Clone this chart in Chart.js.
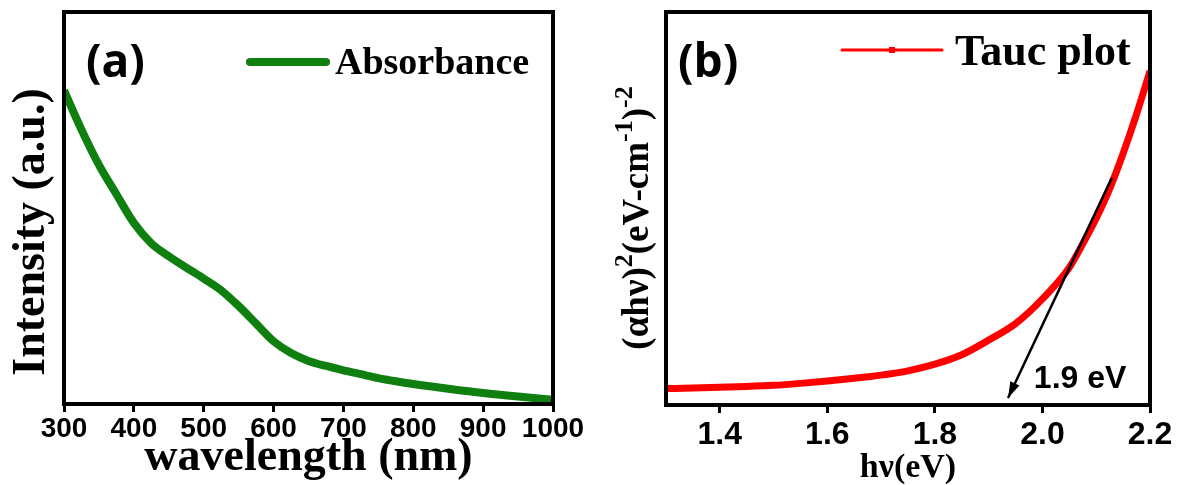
<!DOCTYPE html>
<html>
<head>
<meta charset="utf-8">
<script src="https://cdn.jsdelivr.net/npm/chart.js@4.4.1/dist/chart.umd.min.js"></script>
<style>
  body { margin: 0; background: #fff; }
  #wrap { display: flex; width: 1179px; height: 485px; }
  .panel { position: relative; height: 485px; }
</style>
</head>
<body>
<div id="wrap">
  <div class="panel" style="width:590px"><canvas id="chartA"></canvas></div>
  <div class="panel" style="width:589px"><canvas id="chartB"></canvas></div>
</div>
<script>
// panel (a): absorbance spectrum
const wavelengths = [300, 325, 350, 375, 400, 425, 450, 475, 500, 525, 550, 575, 600,
  625, 650, 675, 700, 725, 750, 775, 800, 850, 900, 950, 1000];
const absorbance = [0.80, 0.70, 0.61, 0.535, 0.462, 0.41, 0.377, 0.348, 0.32, 0.29, 0.25, 0.205, 0.16,
  0.13, 0.11, 0.097, 0.086, 0.076, 0.066, 0.058, 0.051, 0.039, 0.028, 0.019, 0.011];
const wlTicks = [300, 400, 500, 600, 700, 800, 900, 1000];

// panel (b): tauc plot
const photonEnergy = [1.30, 1.35, 1.40, 1.45, 1.50, 1.55, 1.60, 1.65, 1.70, 1.75, 1.80,
  1.85, 1.90, 1.95, 2.00, 2.05, 2.075, 2.10, 2.125, 2.15, 2.175, 2.20];
const taucValues = [0.042, 0.043, 0.045, 0.047, 0.050, 0.055, 0.061, 0.068, 0.076, 0.087, 0.104,
  0.128, 0.165, 0.207, 0.27, 0.35, 0.41, 0.475, 0.55, 0.64, 0.74, 0.85];
const evTicks = [1.4, 1.6, 1.8, 2.0, 2.2];
const tangentX = [2.129, 1.936];
const tangentY = [0.578, 0.018];
const gapLabel = '1.9 eV';
const gapLabelPos = [2.07, 0.066];

const serif = 'Liberation Serif';
const sans = 'Liberation Sans';

function boxAndText(opts) {
  return {
    id: 'deco',
    afterDraw(chart) {
      const ctx = chart.ctx;
      const a = chart.chartArea;
      ctx.save();
      ctx.strokeStyle = '#000';
      ctx.lineWidth = 4;
      ctx.strokeRect(a.left, a.top, a.right - a.left, a.bottom - a.top);

      // panel letter
      ctx.fillStyle = '#000';
      ctx.font = 'bold 46px "Open Sans"';
      ctx.textBaseline = 'middle';
      ctx.textAlign = 'left';
      ctx.fillText(opts.letter, opts.letterX, 64);

      // legend
      ctx.strokeStyle = opts.color;
      ctx.lineWidth = opts.legendWidth;
      ctx.lineCap = 'round';
      ctx.beginPath();
      ctx.moveTo(opts.legendX[0], opts.legendY);
      ctx.lineTo(opts.legendX[1], opts.legendY);
      ctx.stroke();
      if (opts.marker) {
        ctx.fillStyle = opts.color;
        const mx = (opts.legendX[0] + opts.legendX[1]) / 2;
        ctx.fillRect(mx - 3, opts.legendY - 3, 6, 6);
      }
      ctx.fillStyle = '#000';
      ctx.font = 'bold ' + opts.legendSize + 'px "' + serif + '"';
      ctx.textBaseline = 'alphabetic';
      ctx.fillText(opts.legendText, opts.legendTextX, opts.legendBase);

      // y title (rotated, with superscripts)
      ctx.translate(opts.yTitleX, opts.yTitleY);
      ctx.rotate(-Math.PI / 2);
      const big = 'bold ' + opts.yTitleSize + 'px "' + serif + '"';
      const small = 'bold ' + Math.round(opts.yTitleSize * 0.7) + 'px "' + serif + '"';
      let w = 0;
      opts.yTitle.forEach(p => { ctx.font = p.sup ? small : big; w += ctx.measureText(p.t).width; });
      let x = -w / 2;
      ctx.textBaseline = 'middle';
      opts.yTitle.forEach(p => {
        ctx.font = p.sup ? small : big;
        ctx.fillText(p.t, x, p.sup ? -opts.yTitleSize * 0.35 : 0);
        x += ctx.measureText(p.t).width;
      });
      ctx.restore();

      if (opts.arrow) {
        const xs = chart.scales.x, ys = chart.scales.y;
        const x0 = xs.getPixelForValue(tangentX[0]), y0 = ys.getPixelForValue(tangentY[0]);
        const x1 = xs.getPixelForValue(tangentX[1]), y1 = ys.getPixelForValue(tangentY[1]);
        const ang = Math.atan2(y1 - y0, x1 - x0);
        ctx.save();
        ctx.fillStyle = '#000';
        ctx.beginPath();
        ctx.moveTo(x1, y1);
        ctx.lineTo(x1 - 16 * Math.cos(ang) + 5 * Math.sin(ang), y1 - 16 * Math.sin(ang) - 5 * Math.cos(ang));
        ctx.lineTo(x1 - 16 * Math.cos(ang) - 5 * Math.sin(ang), y1 - 16 * Math.sin(ang) + 5 * Math.cos(ang));
        ctx.closePath();
        ctx.fill();
        ctx.font = 'bold 32px "' + sans + '"';
        ctx.textAlign = 'center';
        ctx.textBaseline = 'middle';
        ctx.fillText(gapLabel, xs.getPixelForValue(gapLabelPos[0]), ys.getPixelForValue(gapLabelPos[1]));
        ctx.restore();
      }
    }
  };
}

function xAxis(min, max, tickVals, fmt, tickSize, pad, height, title, titleSize, titlePad) {
  return {
    type: 'linear', min: min, max: max,
    afterBuildTicks: s => { s.ticks = tickVals.map(v => ({ value: v })); },
    afterFit: s => { s.height = height; },
    grid: { display: true, drawOnChartArea: false, drawTicks: true, tickLength: 8, tickWidth: 3, color: '#000' },
    border: { display: false },
    ticks: {
      color: '#000', padding: pad, maxRotation: 0, autoSkip: false,
      font: { family: sans, weight: 'bold', size: tickSize, lineHeight: 1 },
      callback: fmt
    },
    title: {
      display: true, text: title, color: '#000', padding: { top: 0, bottom: titlePad },
      font: { family: serif, weight: 'bold', size: titleSize, lineHeight: 1 }
    }
  };
}

new Chart(document.getElementById('chartA'), {
  type: 'line',
  data: {
    datasets: [{
      label: 'Absorbance',
      data: wavelengths.map((w, i) => ({ x: w, y: absorbance[i] })),
      borderColor: '#0f800f',
      borderWidth: 8,
      pointRadius: 0,
      cubicInterpolationMode: 'monotone'
    }]
  },
  options: {
    responsive: true, maintainAspectRatio: false, animation: false,
    layout: { padding: { left: 64, right: 37, top: 12, bottom: 0 } },
    plugins: { legend: { display: false }, tooltip: { enabled: false } },
    scales: {
      x: xAxis(300, 1000, wlTicks, v => v, 28, 3, 81, 'wavelength (nm)', 46, 4),
      y: { display: false, min: 0, max: 1 }
    }
  },
  plugins: [boxAndText({
    letter: '(a)', letterX: 86, color: '#0f800f', legendWidth: 8,
    legendX: [250, 326], legendY: 62, legendText: 'Absorbance', legendTextX: 335,
    legendBase: 74, legendSize: 38, marker: false,
    yTitle: [{ t: 'Intensity (a.u.)' }], yTitleX: 32, yTitleY: 232, yTitleSize: 46
  })]
});

new Chart(document.getElementById('chartB'), {
  type: 'line',
  data: {
    datasets: [{
      label: 'Tauc plot',
      data: photonEnergy.map((e, i) => ({ x: e, y: taucValues[i] })),
      borderColor: '#ff0000',
      borderWidth: 7,
      pointRadius: 0,
      cubicInterpolationMode: 'monotone',
      order: 2
    }, {
      label: 'tangent',
      data: tangentX.map((e, i) => ({ x: e, y: tangentY[i] })),
      borderColor: '#000',
      borderWidth: 2.5,
      pointRadius: 0,
      order: 1
    }]
  },
  options: {
    responsive: true, maintainAspectRatio: false, animation: false,
    layout: { padding: { left: 76, right: 29, top: 12, bottom: 0 } },
    plugins: { legend: { display: false }, tooltip: { enabled: false } },
    scales: {
      x: xAxis(1.3, 2.2, evTicks, v => Number(v).toFixed(1), 32, 6, 80, 'hν(eV)', 34, 0),
      y: { display: false, min: 0, max: 1 }
    }
  },
  plugins: [boxAndText({
    letter: '(b)', letterX: 88, color: '#ff0000', legendWidth: 3,
    legendX: [252, 352], legendY: 50, legendText: 'Tauc plot', legendTextX: 365,
    legendBase: 65, legendSize: 44, marker: true, arrow: true,
    yTitle: [{ t: '(αhν)' }, { t: '2', sup: true }, { t: '(eV-cm' }, { t: '-1', sup: true },
      { t: ')' }, { t: '-2', sup: true }],
    yTitleX: 48, yTitleY: 218, yTitleSize: 37
  })]
});
</script>
</body>
</html>
